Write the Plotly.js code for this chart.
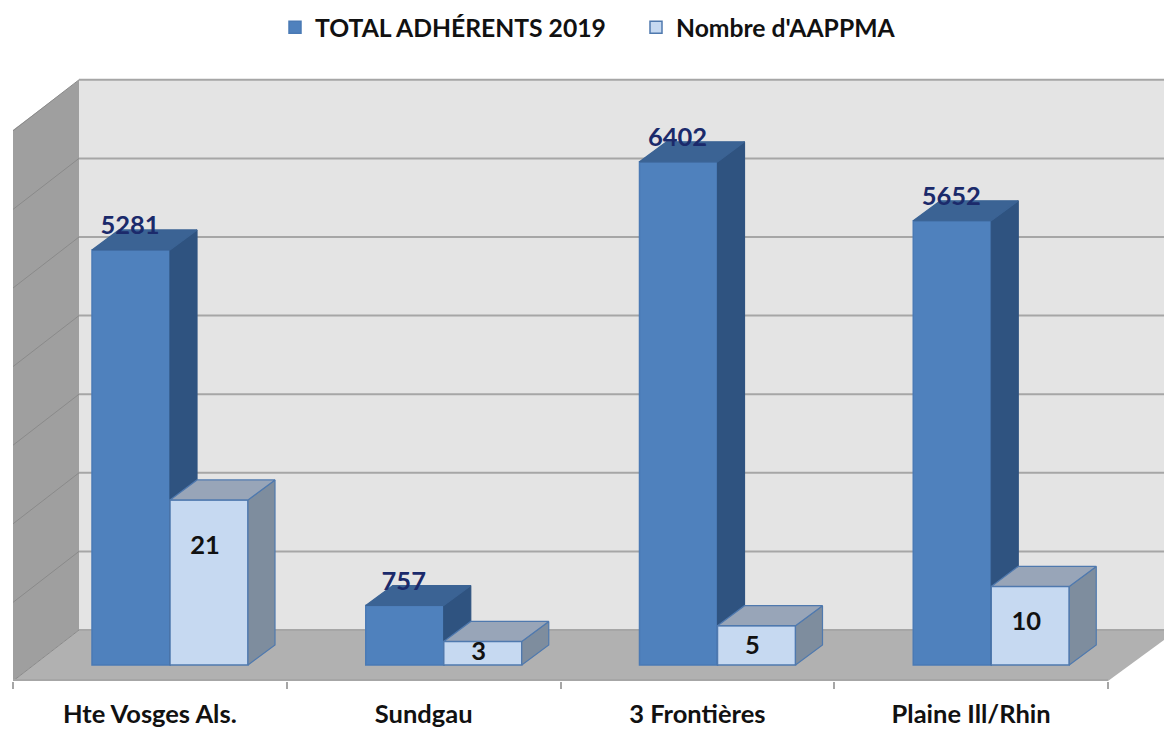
<!DOCTYPE html>
<html><head><meta charset="utf-8">
<script src="https://cdn.plot.ly/plotly-3.0.1.min.js"></script>
<style>html,body{margin:0;padding:0;background:#fff}</style>
</head><body><div id="chart" style="width:1164px;height:729px"></div>
<script>
// ---- data ----
const categories = ["Hte Vosges Als.", "Sundgau", "3 Frontières", "Plaine Ill/Rhin"];
const adherents = [5281, 757, 6402, 5652];
const aappma = [21, 3, 5, 10];
const aappmaLabelHeights = [14.9, 1.5, 2.2, 5.3];
const gridValues = [0, 1000, 2000, 3000, 4000, 5000, 6000, 7000];
const seriesNames = ["TOTAL ADHÉRENTS 2019", "Nombre d'AAPPMA"];

// ---- scene geometry (page pixels) ----
const W = 1164, H = 729, bottomPx = 681, baseY = 665;
const leftPx = 13, catPx = 273.75, pxPerUnit = 0.0786, secScale = 100;
const X = p => (p - leftPx) / catPx;
const Y = p => (baseY - p) / pxPerUnit;
const barW = 78 / catPx, barStart = 79 / catPx;
const ddx = 27 / catPx, ddy = 20 / pxPerUnit;
const wallDx = 66, wallDy = 51;

const traces = [];
function bars(vals, off, scale, axis, fill, line, name) {
  const xs = vals.map((_, i) => i + barStart + off + barW / 2);
  traces.push({type: "bar", x: xs, y: vals, width: barW, yaxis: axis, name: name,
    marker: {color: fill, line: {color: line, width: 1.5}}, hoverinfo: "skip"});
  const dy = ddy / scale;
  const top = {x: [], y: []}, side = {x: [], y: []};
  vals.forEach((v, i) => {
    const a = i + barStart + off, b = a + barW;
    top.x.push(a, b, b + ddx, a + ddx, a, null);
    top.y.push(v, v, v + dy, v + dy, v, null);
    side.x.push(b, b + ddx, b + ddx, b, b, null);
    side.y.push(0, dy, v + dy, v, 0, null);
  });
  return {top, side, axis};
}
function face(p, fill, line) {
  traces.push({type: "scatter", mode: "lines", x: p.x, y: p.y, yaxis: p.axis, fill: "toself",
    fillcolor: fill, line: {color: line, width: 1.2}, showlegend: false, hoverinfo: "skip"});
}
const s1 = bars(adherents, 0, 1, "y", "#4f81bd", "#4a7ab5", seriesNames[0]);
s1.side.axis = s1.top.axis = "y";
face(s1.side, "#2f5380", "#2f5380");
face(s1.top, "#3b6394", "#3b6394");
const s2 = bars(aappma, barW, secScale, "y2", "#c6d9f1", "#4f79ae", seriesNames[1]);
s2.side.axis = s2.top.axis = "y2";
face(s2.side, "#7e8d9e", "#4f79ae");
face(s2.top, "#98a5b8", "#4f79ae");

// labels
traces.push({type: "scatter", mode: "text", showlegend: false, hoverinfo: "skip", yaxis: "y",
  x: adherents.map((_, i) => i + barStart + barW / 2 - 1 / catPx),
  y: adherents.map(v => v + 22 / pxPerUnit),
  text: adherents.map(String), textposition: "middle center", cliponaxis: false,
  textfont: {family: "Lato, sans-serif", size: 25.5, color: "#1b2a6b", weight: 700}});
traces.push({type: "scatter", mode: "text", showlegend: false, hoverinfo: "skip", yaxis: "y2",
  x: aappma.map((_, i) => i + barStart + barW * 1.5 - 4 / catPx),
  y: aappmaLabelHeights,
  text: aappma.map(String), textposition: "middle center",
  textfont: {family: "Lato, sans-serif", size: 25.5, color: "#111", weight: 700}});

// walls, floor, gridlines
const poly = pts => "M" + pts.map(p => X(p[0]) + "," + Y(p[1])).join("L") + "Z";
const shapes = [
  {type: "path", path: poly([[leftPx + wallDx, 80], [W, 80], [W, bottomPx - wallDy], [leftPx + wallDx, bottomPx - wallDy]]),
   fillcolor: "#e4e4e4", line: {width: 0}},
  {type: "path", path: poly([[leftPx, 130], [leftPx + wallDx, 80], [leftPx + wallDx, bottomPx - wallDy], [leftPx, bottomPx]]),
   fillcolor: "#9f9f9f", line: {width: 0}},
  {type: "path", path: poly([[leftPx, bottomPx], [leftPx + wallDx, bottomPx - wallDy], [W, bottomPx - wallDy], [W, bottomPx - 41], [leftPx + catPx * 4, bottomPx]]),
   fillcolor: "#b1b1b1", line: {width: 0}}
];
gridValues.forEach(v => {
  const back = bottomPx - wallDy - v * pxPerUnit, front = bottomPx - v * pxPerUnit;
  shapes.push({type: "line", x0: X(leftPx + wallDx), x1: X(W), y0: Y(back), y1: Y(back),
    line: {color: "#a6a6a6", width: 2}});
  shapes.push({type: "line", x0: X(leftPx), x1: X(leftPx + wallDx), y0: Y(front), y1: Y(back),
    line: {color: "#8a8a8a", width: 1}});
});
shapes.push({type: "line", x0: 0, x1: 4, y0: Y(bottomPx - 1), y1: Y(bottomPx - 1), line: {color: "#a6a6a6", width: 2}});
shapes.forEach(s => { s.xref = "x"; s.yref = "y"; s.layer = "below"; });

const yRange = [Y(bottomPx), Y(0)];
const layout = {
  width: W, height: H, paper_bgcolor: "#fff", plot_bgcolor: "#fff",
  margin: {l: 0, r: 0, t: 0, b: H - bottomPx, pad: 0},
  barmode: "overlay", showlegend: true,
  legend: {orientation: "h", x: 275 / W, xanchor: "left", y: 0.993, yanchor: "top",
    font: {family: "Lato, sans-serif", size: 24.7, color: "#111", weight: 700},
    entrywidth: 316, entrywidthmode: "pixels", itemwidth: 30, traceorder: "normal", bgcolor: "rgba(0,0,0,0)"},
  xaxis: {range: [X(0), X(W)], tickmode: "array", tickvals: categories.map((_, i) => i + 0.5),
    ticktext: categories, ticks: "", showgrid: false, zeroline: false, showline: false, ticklabelstandoff: 15,
    minor: {tickmode: "array", tickvals: [0, 1, 2, 3, 4], ticks: "outside", ticklen: 7, tickwidth: 2, tickcolor: "#a6a6a6", showgrid: false},
    tickfont: {family: "Lato, sans-serif", size: 25.5, color: "#111", weight: 700}, fixedrange: true},
  yaxis: {range: yRange, visible: false, showgrid: false, zeroline: false, fixedrange: true},
  yaxis2: {range: yRange.map(v => v / secScale), overlaying: "y", visible: false, showgrid: false, zeroline: false, fixedrange: true},
  shapes: shapes
};
Plotly.newPlot("chart", traces, layout, {displayModeBar: false, staticPlot: true});
</script></body></html>
